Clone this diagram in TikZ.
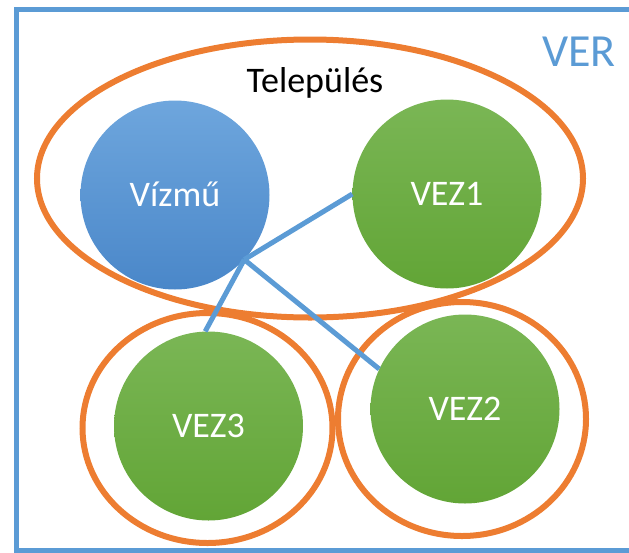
\documentclass[tikz,border=0pt]{standalone}
\usepackage{fontspec}
\setmainfont{Carlito}
\definecolor{ublue}{HTML}{5B9BD5}
\definecolor{uorange}{HTML}{ED7D31}
\definecolor{gtop}{HTML}{7AB655}
\definecolor{gbot}{HTML}{62A536}
\definecolor{btop}{HTML}{6EA6DD}
\definecolor{bbot}{HTML}{4A87C9}
\begin{document}
\begin{tikzpicture}[x=1pt,y=-1pt,
  ball/.style={circle, minimum size=189pt, inner sep=0pt, text=white,
    font=\fontsize{36}{40}\selectfont, text height=23pt, text depth=0pt},
  greenball/.style={ball, top color=gtop, bottom color=gbot},
  blueball/.style={ball, top color=btop, bottom color=bbot},
  ring/.style={draw=uorange, line width=6pt},
  link/.style={draw=ublue, line width=5pt},
  lbl/.style={inner sep=0pt, text depth=0pt}]
\useasboundingbox (0,0) rectangle (629,552);
\begin{scope}
\clip (0,0) rectangle (629,552);
\draw[ublue, line width=5pt] (16.5,9) rectangle (660,550);
\end{scope}
\node[lbl, text=ublue, font=\fontsize{46}{50}\selectfont, text height=29.6pt] (ver) at (579,52) {VER};
% Település ellipse
\draw[ring] (310,178.5) ellipse [x radius=273, y radius=139];
\node[lbl, font=\fontsize{36}{40}\selectfont, text height=23pt] (tel) at (315,81) {Település};
% rings
\draw[ring] (207.5,428) ellipse [x radius=125, y radius=115];
\draw[ring] (462,419) ellipse [x radius=124, y radius=117];
% balls
\node[blueball] (vizmu) at (175,195) {Vízmű};
\node[greenball] (vez1) at (447,194) {VEZ1};
\node[greenball] (vez3) at (208.5,426) {VEZ3};
\node[greenball] (vez2) at (465,409) {VEZ2};
% links
\draw[link] (vizmu.-43) -- (vez1.180);
\draw[link] (vizmu.-43) -- (vez3.92);
\draw[link] (vizmu.-43) -- (vez2.155);
\end{tikzpicture}
\end{document}
